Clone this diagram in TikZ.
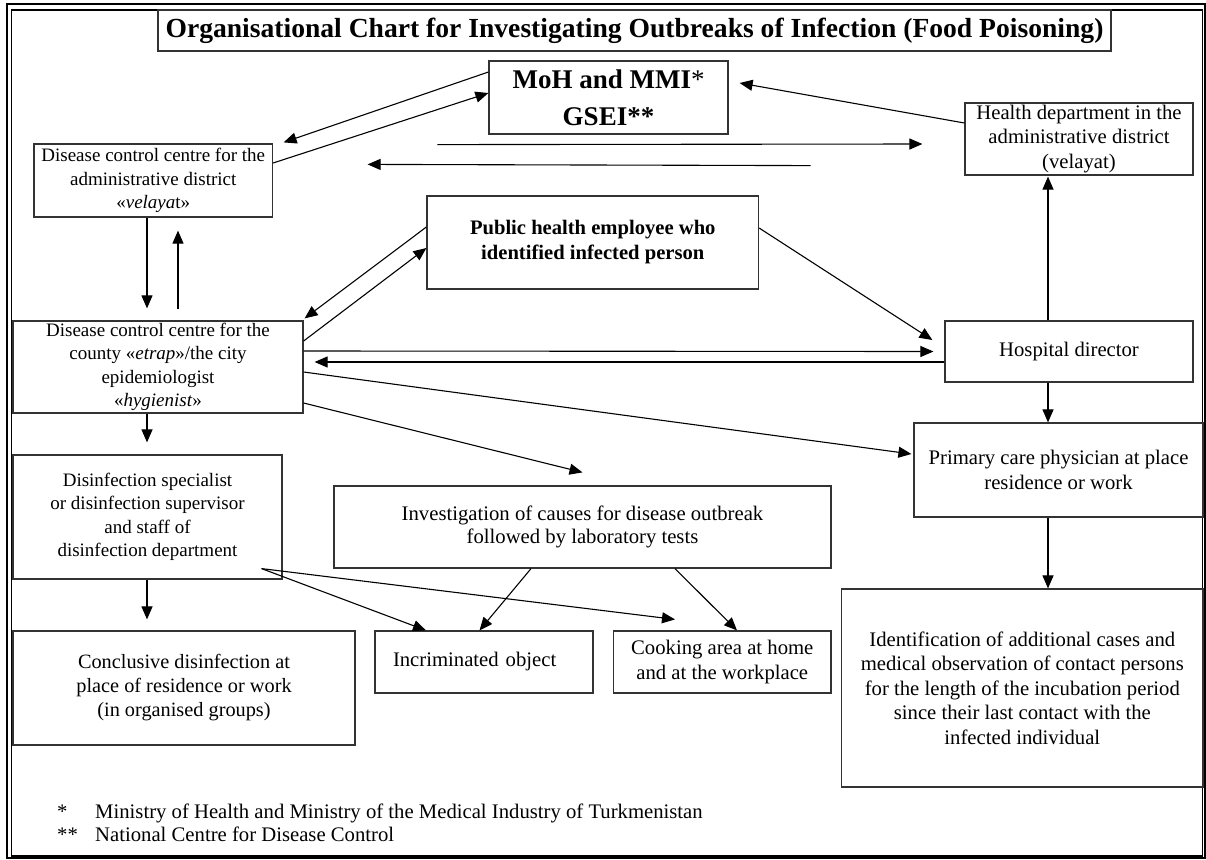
\documentclass[tikz,border=0pt]{standalone}
\usepackage{fontspec}
\setmainfont{Liberation Serif}
\usepackage{tikz}
\usetikzlibrary{arrows.meta}

\tikzset{
  box/.style={rectangle, draw=black!80, line width=1.2pt, inner sep=0pt, align=center,
    font=\fontsize{20.7}{24.5}\selectfont},
  leftbox/.style={box, font=\fontsize{19}{23.5}\selectfont},
  link/.style={-{Triangle[length=13pt,width=11pt]}, line width=1.1pt},
  note/.style={anchor=base west, inner sep=0pt, font=\fontsize{20.7}{24.5}\selectfont}
}

\begin{document}
\begin{tikzpicture}[x=1pt, y=-1pt]
            \useasboundingbox (0,0) rectangle (1206,859);
            % Frame
            \draw[line width=2pt] (7,4.3) rectangle (1205,857.5);
            \draw[line width=1.8pt] (11.5,10.3) rectangle (1202.5,856);
            % Title
            \node[box, minimum width=953pt, minimum height=41pt,
                font=\bfseries\fontsize{27.6}{30}\selectfont]
                (Title) at (634.5,30.5) {Organisational Chart for Investigating Outbreaks of Infection (Food Poisoning)};
            % Top row
            \node[box, minimum width=239pt, minimum height=73pt,
                font=\bfseries\fontsize{27}{37}\selectfont]
                (MoH) at (608.5,97.5) {MoH and MMI\textmd{*}\\GSEI**};
            \node[box, minimum width=228pt, minimum height=72pt]
                (Health) at (1079,139) {Health department in the\\administrative district\\(velayat)};
            \node[leftbox, minimum width=238.5pt, minimum height=73pt]
                (Admin) at (153.25,180.5) {Disease control centre for the\\administrative district\\«\textit{velaya}t»};
            \node[box, minimum width=331.5pt, minimum height=93pt,
                font=\bfseries\fontsize{20.6}{25}\selectfont]
                (Employee) at (592.75,242.5) {Public health employee who\\identified infected person};
            % Middle row
            \node[leftbox, minimum width=290pt, minimum height=92pt]
                (County) at (158,367) {Disease control centre for the\\county «\textit{etrap}»/the city\\epidemiologist\\«\textit{hygienist}»};
            \node[box, minimum width=248pt, minimum height=61pt]
                (Hospital) at (1069,351.5) {Hospital director};
            \node[box, minimum width=289pt, minimum height=94pt]
                (Physician) at (1058.5,470) {Primary care physician at place\\residence or work};
            \node[leftbox, minimum width=269pt, minimum height=124pt]
                (Disinf) at (147.5,517) {Disinfection specialist\\or disinfection supervisor\\and staff of\\disinfection department};
            \node[box, minimum width=497pt, minimum height=82pt, font=\fontsize{20.7}{23}\selectfont]
                (Investigation) at (582.5,527) {Investigation of causes for disease outbreak\\followed by laboratory tests};
            % Bottom row
            \node[box, minimum width=342pt, minimum height=114pt, font=\fontsize{20.3}{24}\selectfont]
                (Final) at (184,688) {Conclusive disinfection at\\place of residence or work\\(in organised groups)};
            \node[box, minimum width=218pt, minimum height=62pt, text width=182pt,
                inner xsep=18pt, align=left]
                (Object) at (484,662) {Incriminated object};
            \node[box, minimum width=217.5pt, minimum height=62pt]
                (Cooking) at (722.25,662) {Cooking area at home\\and at the workplace};
            \node[box, minimum width=361.4pt, minimum height=198pt]
                (Contacts) at (1022.3,688) {Identification of additional cases and\\medical observation of contact persons\\for the length of the incubation period\\since their last contact with the\\infected individual};
            % Footnotes
            \node[note] (Star-1) at (57,818) {*};
            \node[note] (Note-1) at (95,818) {Ministry of Health and Ministry of the Medical Industry of Turkmenistan};
            \node[note] (Star-2) at (57,841) {**};
            \node[note] (Note-2) at (95,841) {National Centre for Disease Control};
            % Arrows around MoH
            \draw[link] ([yshift=17.5pt]Admin.east) -- ([yshift=4.5pt]MoH.west);
            \draw[link] ([yshift=25.5pt]MoH.west) -- ([xshift=10.5pt,yshift=1pt]Admin.north east);
            \draw[link] ([xshift=-51pt,yshift=-10pt]MoH.south west) -- ([xshift=-42pt,yshift=-5pt]Health.west);
            \draw[link] ([xshift=82pt,yshift=-31pt]MoH.south east) -- ([xshift=94.5pt,yshift=-21pt]Admin.north east);
            \draw[link] ([yshift=16pt]Health.west) -- ([xshift=11pt,yshift=14.5pt]MoH.east);
            % Arrows around county centre
            \draw[link] ([xshift=-6.25pt]Admin.south) -- ([xshift=-11pt,yshift=12pt]County.north);
            \draw[link] ([xshift=20pt,yshift=11pt]County.north) -- ([xshift=24.75pt,yshift=-13pt]Admin.south);
            \draw[link] ([yshift=15.5pt]Employee.west) -- ([xshift=1pt,yshift=2pt]County.north east);
            \draw[link] ([yshift=26pt]County.east) -- ([yshift=-5.5pt]Employee.west);
            \draw[link] ([yshift=14.5pt]Employee.east) -- ([xshift=-12pt,yshift=11.5pt]Hospital.west);
            \draw[link] ([yshift=16pt]County.east) -- ([xshift=-11pt]Hospital.west);
            \draw[link] ([yshift=-10.5pt]Hospital.west) -- ([xshift=11pt,yshift=5pt]County.east);
            \draw[link] ([yshift=-5pt]County.east) -- ([xshift=-2pt,yshift=16pt]Physician.west);
            \draw[link] ([yshift=-36pt]County.east) -- ([yshift=13pt]Investigation.north);
            \draw[link] ([xshift=-11pt]County.south) -- ([xshift=-0.5pt,yshift=12pt]Disinf.north);
            % Arrows on the right
            \draw[link] ([xshift=-21pt]Hospital.north) -- ([xshift=-31pt,yshift=-1pt]Health.south);
            \draw[link] ([xshift=-21pt]Hospital.south) -- ([xshift=-10.5pt]Physician.north);
            \draw[link] ([xshift=-10.5pt]Physician.south) -- ([xshift=25.7pt]Contacts.north);
            % Arrows at the bottom
            \draw[link] ([xshift=-0.5pt]Disinf.south) -- ([xshift=-37pt,yshift=11pt]Final.north);
            \draw[link] ([xshift=-21pt,yshift=11pt]Disinf.south east) -- ([xshift=-58pt]Object.north);
            \draw[link] ([xshift=-21pt,yshift=11pt]Disinf.south east) -- ([xshift=-47.25pt,yshift=11pt]Cooking.north);
            \draw[link] ([xshift=-51.5pt]Investigation.south) -- ([xshift=-4.5pt]Object.north);
            \draw[link] ([xshift=92.5pt]Investigation.south) -- ([xshift=14.75pt]Cooking.north);
\end{tikzpicture}
\end{document}
